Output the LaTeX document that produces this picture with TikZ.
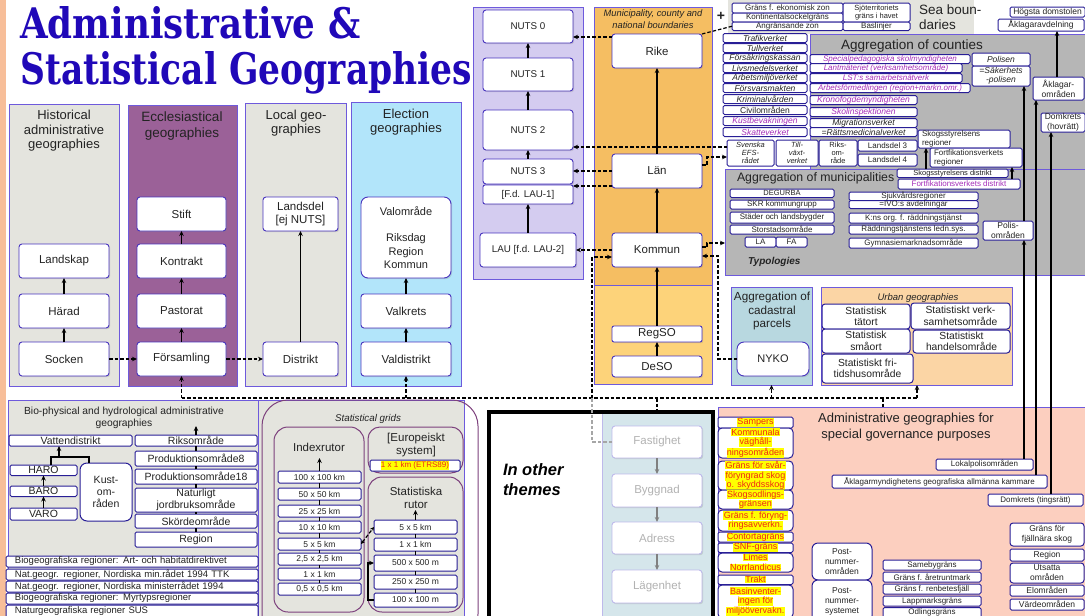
\documentclass[tikz,border=0pt]{standalone}
\usepackage{fontspec}
\usepackage{graphicx}
\setmainfont{Liberation Sans}
\newfontfamily\titlefont{DejaVu Serif}
\usetikzlibrary{arrows.meta,shadows}
\definecolor{peach}{RGB}{247,190,153}
\definecolor{lgray}{RGB}{228,228,222}
\definecolor{eccl}{RGB}{155,97,152}
\definecolor{elect}{RGB}{178,229,250}
\definecolor{lav}{RGB}{212,204,240}
\definecolor{orng}{RGB}{245,190,98}
\definecolor{lorng}{RGB}{253,211,122}
\definecolor{mgray}{RGB}{182,182,182}
\definecolor{cadc}{RGB}{184,216,224}
\definecolor{urbc}{RGB}{251,213,165}
\definecolor{salm}{RGB}{252,207,191}
\definecolor{othb}{RGB}{213,230,235}
\definecolor{contb}{RGB}{110,90,220}
\definecolor{nodeb}{RGB}{72,52,190}
\definecolor{rowb}{RGB}{40,30,150}
\definecolor{purp}{RGB}{165,45,185}
\definecolor{gridp}{RGB}{125,65,125}
\definecolor{hly}{RGB}{255,255,0}
\definecolor{hlr}{RGB}{240,40,20}
\definecolor{titlec}{RGB}{32,8,184}
\definecolor{txt}{RGB}{35,35,35}
\definecolor{fadeb}{RGB}{190,185,235}
\definecolor{fadet}{RGB}{178,178,178}
\newcommand{\fsz}[2]{\fontsize{#1}{#2}\selectfont}
\newcommand{\hy}[1]{{\setlength{\fboxsep}{0.4pt}\colorbox{hly}{#1}}}
\newcommand{\bx}[7][]{\node[box,#1,anchor=north west,minimum width={#5-(#3)},minimum height={#6-(#4)}] (#2) at (#3,#4) {#7};}
\tikzset{
 box/.style={draw=nodeb,fill=white,line width=0.9pt,rounded corners=3pt,inner sep=0pt,outer sep=0pt,align=center,text=txt,font=\fsz{11.5}{13.5}},
 shd/.style={drop shadow={shadow xshift=1.2pt,shadow yshift=-1.2pt,opacity=0.25}},
 mainbox/.style={shd},
 bigr/.style={rounded corners=7pt},
 nutsf/.style={font=\fsz{9.8}{12}},
 row/.style={draw=rowb,rounded corners=1.5pt,line width=1pt,font=\fsz{8}{9}},
 rowi/.style={row,font=\fsz{8.5}{9}\itshape},
 cont/.style={draw=contb,line width=0.8pt,sharp corners},
 ttl/.style={inner sep=0pt,outer sep=0pt,align=center,text=txt,font=\fsz{13}{14.5}},
 arr/.style={line width=1.2pt,-{Stealth[length=5pt,width=4.5pt]}},
 ln/.style={line width=1.2pt},
 dln/.style={line width=1.2pt,dash pattern=on 3.5pt off 2pt},
 darr/.style={dln,-{Stealth[length=5pt,width=4.5pt]}},
 faded/.style={draw=fadeb,text=fadet,shd},
 hlrow/.style={row,text=hlr,font=\fsz{9}{9.6}},
 gring/.style={draw=gridp,line width=1pt,fill=none},
 brow/.style={row,font=\fsz{10.5}{11.5}},
 lrow/.style={row,font=\fsz{9.5}{11},align=left,text width=234pt,inner xsep=9pt},
}
\begin{document}
\begin{tikzpicture}[x=1pt,y=-1pt]
\useasboundingbox (0,0) rectangle (1085,616);
\fill[peach] (0,0) rectangle (6,616);
% title
\node[anchor=base west,inner sep=0pt,text=titlec] (title1) at (20,38) {\resizebox{340pt}{32pt}{\titlefont\bfseries Administrative \&}};
\node[anchor=base west,inner sep=0pt,text=titlec] (title2) at (20,84) {\resizebox{452pt}{33pt}{\titlefont\bfseries Statistical Geographies}};
% containers
\bx[cont,fill=lgray]{hist}{9}{104}{119}{386}{}
\bx[cont,fill=eccl]{ecclc}{128}{105}{237}{386}{}
\bx[cont,fill=lgray]{localc}{245}{103}{346}{386}{}
\bx[cont,fill=elect]{electc}{351}{102}{461}{386}{}
\bx[cont,fill=lav]{nutsc}{473}{7}{583}{279}{}
\bx[cont,fill=orng]{munc}{594}{7}{712}{285}{}
\bx[cont,fill=lorng]{munc2}{594}{285}{712}{384}{}
\bx[cont,draw=none,fill=lgray]{seac}{728}{0}{974}{34}{}
\bx[cont,fill=mgray]{counties}{810}{34}{1090}{169}{}
\bx[cont,fill=mgray]{muni}{725}{169}{1090}{275}{}
\bx[cont,fill=cadc]{cad}{731}{287}{812}{385}{}
\bx[cont,fill=urbc]{urban}{821}{287}{1012}{385}{}
\bx[cont,fill=lgray]{bio}{8}{400}{258}{625}{}
\bx[cont,fill=lgray]{gridc}{258}{400}{464}{625}{}
\bx[cont,fill=othb,draw=fadeb]{otherin}{602}{412}{712}{625}{}
\bx[cont,draw=black,line width=4pt,fill=none]{other}{489}{412}{713}{625}{}
\bx[cont,fill=salm]{special}{718}{407}{1090}{625}{}
\bx[gring,rounded corners=26pt]{gridout}{262}{400}{478}{640}{}
\bx[gring,rounded corners=14pt]{idxbox}{274}{427}{364}{612}{}
\bx[gring,rounded corners=12pt]{eurbox}{368}{427}{463}{473}{}
\bx[gring,rounded corners=14pt]{statbox}{368}{477}{463}{612}{}
% container titles
\node[ttl] (histT) at (64,131) {Historical\\administrative\\geographies};
\node[ttl,font=\fsz{13.5}{16.5}] (ecclT) at (182,126) {Ecclesiastical\\geographies};
\node[ttl] (localT) at (296,123) {Local geo-\\graphies};
\node[ttl] (electT) at (406,122) {Election\\geographies};
\node[ttl,font=\fsz{9.3}{12}\itshape] (munT) at (653,19) {Municipality, county and\\national boundaries};
\node[ttl,align=left,anchor=west,font=\fsz{13.5}{14.5}] (seaT) at (919,17) {Sea boun-\\daries};
\node[ttl,font=\fsz{13.5}{15}] (countiesT) at (912,46) {Aggregation of counties};
\node[ttl,anchor=west,font=\fsz{12.3}{14}] (muniT) at (737,178) {Aggregation of municipalities};
\node[ttl,anchor=west,font=\fsz{10}{12}\bfseries\itshape] (typT) at (748,262) {Typologies};
\node[ttl,font=\fsz{11.7}{13.5}] (cadT) at (772,311) {Aggregation of\\cadastral\\parcels};
\node[ttl,font=\fsz{9.5}{11}\itshape] (urbT) at (918,298) {Urban geographies};
\node[ttl,font=\fsz{10.3}{12}] (bioT) at (124,418) {Bio-physical and hydrological administrative\\geographies};
\node[ttl,font=\fsz{9.8}{11}\itshape] (gridT) at (368,419) {Statistical grids};
\node[ttl,font=\fsz{11.5}{13}] (idxT) at (319,447) {Indexrutor};
\node[ttl,font=\fsz{11.5}{13}] (eurT) at (416,445) {[Europeiskt\\system]};
\node[ttl,font=\fsz{11.5}{13}] (statT) at (416,498) {Statistiska\\rutor};
\node[ttl,anchor=west,align=left,font=\fsz{16.5}{20}\bfseries\itshape,text=black] (othT) at (503,480) {In other\\themes};
\node[ttl,font=\fsz{13}{15.5}] (specT) at (906,427) {Administrative geographies for\\special governance purposes};
\node[ttl,font=\fsz{14}{14}\bfseries] (plus) at (721,16) {+};
% main chains
\bx[mainbox]{landskap}{19}{244}{109}{278}{Landskap}
\bx[mainbox]{harad}{19}{294}{109}{328}{Härad}
\bx[mainbox]{socken}{19}{342}{109}{376}{Socken}
\bx[mainbox]{stift}{137}{197}{226}{231}{Stift}
\bx[mainbox]{kontrakt}{137}{244}{226}{278}{Kontrakt}
\bx[mainbox]{pastorat}{137}{294}{226}{328}{Pastorat}
\bx[mainbox]{forsamling}{137}{342}{226}{376}{Församling}
\bx[mainbox]{landsdel}{263}{197}{338}{231}{Landsdel\\{[ej NUTS]}}
\bx[mainbox]{distrikt}{263}{342}{338}{376}{Distrikt}
\bx[mainbox,bigr,font=\fsz{11}{13.5}]{valomrade}{361}{197}{451}{278}{Valområde\\[13pt]Riksdag\\Region\\Kommun}
\bx[mainbox]{valkrets}{361}{294}{451}{328}{Valkrets}
\bx[mainbox]{valdistrikt}{361}{342}{451}{376}{Valdistrikt}
\bx[mainbox,nutsf]{nuts0}{483}{10}{573}{43}{NUTS 0}
\bx[mainbox,nutsf]{nuts1}{483}{58}{573}{91}{NUTS 1}
\bx[mainbox,nutsf]{nuts2}{483}{110}{573}{150}{NUTS 2}
\bx[mainbox,nutsf]{nuts3}{483}{159}{573}{184}{NUTS 3}
\bx[mainbox,nutsf,rounded corners=2pt]{lau1}{483}{185}{573}{204}{[F.d. LAU-1]}
\bx[mainbox,nutsf]{lau}{480}{233}{576}{267}{LAU [f.d. LAU-2]}
\bx[mainbox]{rike}{612}{34}{702}{68}{Rike}
\bx[mainbox]{lan}{612}{154}{702}{188}{Län}
\bx[mainbox]{kommun}{612}{233}{702}{267}{Kommun}
\bx[mainbox,rounded corners=2pt]{regso}{612}{326}{702}{342}{RegSO}
\bx[mainbox]{deso}{612}{356}{702}{377}{DeSO}
% sea boundaries
\bx[row]{ekzon}{732}{3}{843}{13}{Gräns f. ekonomisk zon}
\bx[row]{kontin}{732}{13}{843}{22}{Kontinentalsockelgräns}
\bx[row]{angr}{732}{22}{843}{30.5}{Angränsande zon}
\bx[row,font=\fsz{7.5}{8.5}]{sjoterr}{843}{3}{910}{22}{Sjöterritoriets\\gräns i havet}
\bx[row]{baslin}{843}{22}{910}{30.5}{Baslinjer}
% agencies
\bx[rowi]{trafik}{723}{33.5}{807}{42.5}{Trafikverket}
\bx[rowi]{tull}{723}{43.5}{807}{52.5}{Tullverket}
\bx[rowi]{fk}{723}{53.5}{807}{62.5}{Försäkringskassan}
\bx[rowi]{livs}{723}{63.5}{807}{72.5}{Livsmedelsverket}
\bx[rowi]{arbm}{723}{73.5}{807}{82.5}{Arbetsmiljöverket}
\bx[rowi]{forsv}{723}{83.5}{807}{92.5}{Försvarsmakten}
\bx[rowi]{krim}{723}{94.5}{807}{103.5}{Kriminalvården}
\bx[row,font=\fsz{8.5}{9}]{civil}{723}{105.5}{807}{114.5}{Civilområden}
\bx[rowi,text=purp]{kustbev}{723}{116.5}{807}{125.5}{Kustbevakningen}
\bx[rowi,text=purp]{skatt}{723}{127.5}{807}{136.5}{Skatteverket}
\bx[rowi,font=\fsz{8}{9}\itshape,text=purp]{spsm}{810}{54.5}{970}{63.5}{Specialpedagogiska skolmyndigheten}
\bx[rowi,font=\fsz{8}{9}\itshape,text=purp]{lm}{810}{63.5}{962}{72.5}{Lantmäteriet (verksamhetsområde)}
\bx[rowi,font=\fsz{8}{9}\itshape,text=purp]{lst}{810}{73.5}{962}{82.5}{LST:s samarbetsnätverk}
\bx[rowi,font=\fsz{8}{9}\itshape,text=purp]{af}{810}{83.5}{970}{92.5}{Arbetsförmedlingen (region+markn.omr.)}
\bx[rowi,text=purp]{kfm}{810}{95.5}{917}{104.5}{Kronofogdemyndigheten}
\bx[rowi,text=purp]{skolinsp}{810}{107.5}{917}{116.5}{Skolinspektionen}
\bx[rowi]{migr}{810}{118.5}{917}{127.5}{Migrationsverket}
\bx[rowi]{rmv}{810}{127.5}{917}{136.5}{=Rättsmedicinalverket}
\bx[row,font=\fsz{8.5}{9.5}\itshape]{polisen}{972}{53}{1030}{66}{Polisen}
\bx[row,font=\fsz{8.5}{9.5}\itshape]{sapo}{972}{66}{1030}{86}{=Säkerhets\\-polisen}
\bx[row,font=\fsz{8.5}{9.5}]{hd}{1010}{7}{1085}{17}{Högsta domstolen}
\bx[row,font=\fsz{8.5}{9.5}]{aklagavd}{998}{19}{1084}{31}{Åklagaravdelning}
\bx[row,font=\fsz{8.5}{10}]{aklagomr}{1033}{77}{1084}{100}{Åklagar-\\områden}
\bx[row,font=\fsz{8.5}{10}]{domhov}{1041}{113}{1085}{132}{Domkrets\\(hovrätt)}
\bx[rowi,font=\fsz{7.5}{8.3}\itshape]{efs}{727}{140}{774}{166}{Svenska\\EFS-\\rådet}
\bx[rowi,font=\fsz{7.5}{8.3}\itshape]{tillv}{776}{140}{818}{166}{Till-\\växt-\\verket}
\bx[row,font=\fsz{7.5}{8.3}]{riksomr}{819}{140}{857}{166}{Riks-\\om-\\råde}
\bx[row]{ld3}{858}{140}{917}{151}{Landsdel 3}
\bx[row]{ld4}{858}{154}{917}{166}{Landsdel 4}
\bx[row,align=left,text width=84pt,inner xsep=4pt]{skogreg}{918}{130}{1010}{148}{Skogsstyrelsens\\regioner}
\bx[row,align=left,text width=84pt,inner xsep=4pt]{fortreg}{930}{148}{1022}{167}{Fortfikationsverkets\\regioner}
\bx[row,font=\fsz{7.5}{8.5}]{skogdist}{897}{169}{1008}{177.5}{Skogsstyrelsens distrikt}
\bx[row,text=purp]{fortdist}{898}{179}{1020}{189}{Fortfikationsverkets distrikt}
% municipalities
\bx[row,font=\fsz{7.5}{8.5}]{degurba}{730}{189}{834}{197.5}{DEGURBA}
\bx[row]{skr}{730}{200}{834}{209}{SKR kommungrupp}
\bx[row]{stader}{730}{212}{834}{223}{Städer och landsbygder}
\bx[row]{storstad}{730}{225}{834}{234}{Storstadsområde}
\bx[row]{la}{745}{237}{776}{247}{LA}
\bx[row]{fa}{776}{237}{807}{247}{FA}
\bx[row]{sjukv}{849}{192}{978}{200.5}{Sjukvårdsregioner}
\bx[row]{ivo}{849}{200.5}{978}{208.5}{=IVO:s avdelningar}
\bx[row]{kns}{849}{213}{978}{223}{K:ns org. f. räddningstjänst}
\bx[row]{radd}{849}{225}{978}{234}{Räddningstjänstens ledn.sys.}
\bx[row]{gymn}{849}{238}{978}{248}{Gymnasiemarknadsområde}
\bx[row,font=\fsz{8.5}{10}]{polisomr}{983}{221}{1033}{240}{Polis-\\områden}
% cadastral, urban
\bx[mainbox,bigr,font=\fsz{11}{13}]{nyko}{737}{342}{809}{376}{NYKO}
\bx[row,font=\fsz{10.3}{11.5},rounded corners=3pt]{tatort}{822}{304}{910}{329}{Statistisk\\tätort}
\bx[row,font=\fsz{10.3}{11.5},rounded corners=3pt]{smaort}{822}{329}{910}{353}{Statistisk\\småort}
\bx[row,font=\fsz{10.3}{11.5},rounded corners=3pt]{fritid}{822}{354}{913}{383}{Statistiskt fri-\\tidshusområde}
\bx[row,font=\fsz{10.3}{11.5},rounded corners=3pt]{verks}{911}{303}{1010}{329}{Statistiskt verk-\\samhetsområde}
\bx[row,font=\fsz{10.3}{11.5},rounded corners=3pt]{handel}{913}{330}{1010}{353}{Statistiskt\\handelsområde}
% bio-physical
\bx[brow]{vatten}{9}{435}{132}{446}{Vattendistrikt}
\bx[brow]{riks}{135}{435}{257}{446}{Riksområde}
\bx[brow]{prod8}{135}{451}{257}{466}{Produktionsområde8}
\bx[brow]{prod18}{135}{469}{257}{484}{Produktionsområde18}
\bx[brow]{natjord}{135}{488}{257}{512}{Naturligt\\jordbruksområde}
\bx[brow]{skord}{135}{514}{257}{528}{Skördeområde}
\bx[brow]{regionB}{135}{532}{257}{547}{Region}
\bx[brow]{haro}{10}{465}{77}{475.5}{HARO}
\bx[brow]{baro}{10}{486}{77}{496.5}{BARO}
\bx[brow]{varo}{10}{508}{77}{520}{VARO}
\bx[brow,font=\fsz{10.5}{12},rounded corners=7pt]{kust}{80}{463}{132}{521}{Kust-\\om-\\råden}
\bx[lrow]{bg1}{6}{556}{258}{567}{Biogeografiska regioner: Art- och habitatdirektivet}
\bx[lrow]{bg2}{6}{569}{258}{580}{Nat.geogr. regioner, Nordiska min.rådet 1994 TTK}
\bx[lrow]{bg3}{6}{581}{258}{592}{Nat.geogr. regioner, Nordiska ministerrådet 1994}
\bx[lrow]{bg4}{6}{593}{258}{604}{Biogeografiska regioner: Myrtypsregioner}
\bx[lrow]{bg5}{6}{605}{258}{618}{Naturgeografiska regioner SUS}
% grids
\bx[row,font=\fsz{8.5}{10}]{i100}{278}{471}{361}{483}{100 x 100 km}
\bx[row,font=\fsz{8.5}{10}]{i50}{278}{488}{361}{500}{50 x 50 km}
\bx[row,font=\fsz{8.5}{10}]{i25}{278}{505}{361}{517}{25 x 25 km}
\bx[row,font=\fsz{8.5}{10}]{i10}{278}{521}{361}{533}{10 x 10 km}
\bx[row,font=\fsz{8.5}{10}]{i5}{278}{538}{361}{550}{5 x 5 km}
\bx[row,font=\fsz{8.5}{10}]{i2}{278}{553}{361}{565}{2,5 x 2,5 km}
\bx[row,font=\fsz{8.5}{10}]{i1}{278}{568}{361}{580}{1 x 1 km}
\bx[row,font=\fsz{8.5}{10}]{i05}{278}{583}{361}{595}{0,5 x 0,5 km}
\bx[row,font=\fsz{8}{9},text=hlr]{etrs}{370}{460}{460}{471}{\hy{1 x 1 km (ETRS89)}}
\bx[row,font=\fsz{8.5}{10}]{s5}{374}{520}{457}{534}{5 x 5 km}
\bx[row,font=\fsz{8.5}{10}]{s1}{374}{538}{457}{551}{1 x 1 km}
\bx[row,font=\fsz{8.5}{10}]{s500}{374}{555}{457}{571}{500 x 500 m}
\bx[row,font=\fsz{8.5}{10}]{s250}{374}{575}{457}{589}{250 x 250 m}
\bx[row,font=\fsz{8.5}{10}]{s100}{374}{593}{457}{607}{100 x 100 m}
% other themes
\bx[faded]{fast}{612}{426}{702}{458}{Fastighet}
\bx[faded]{bygg}{612}{474}{702}{507}{Byggnad}
\bx[faded]{adress}{612}{522}{702}{554}{Adress}
\bx[faded]{lagen}{612}{570}{702}{603}{Lägenhet}
% special governance
\bx[hlrow]{sampers}{718}{417}{793}{428}{\hy{Sampers}}
\bx[hlrow,rounded corners=4pt]{kommunala}{718}{428}{793}{458}{\hy{Kommunala}\\\hy{väghåll-}\\\hy{ningsområden}}
\bx[hlrow,rounded corners=4pt]{svarf}{718}{461}{793}{490}{\hy{Gräns för svår-}\\\hy{föryngrad skog}\\\hy{o. skyddsskog}}
\bx[hlrow,rounded corners=4pt]{skogsodl}{718}{490}{793}{509}{\hy{Skogsodlings-}\\\hy{gränsen}}
\bx[hlrow,rounded corners=4pt]{foryng}{718}{510}{793}{531}{\hy{Gräns f. föryng-}\\\hy{ringsavverkn.}}
\bx[hlrow]{contorta}{718}{532}{793}{542}{\hy{Contortagräns}}
\bx[hlrow]{snf}{718}{543}{793}{552.5}{\hy{SNF-gräns}}
\bx[hlrow,rounded corners=4pt]{limes}{718}{553}{793}{572}{\hy{Limes}\\\hy{Norrlandicus}}
\bx[hlrow]{trakt}{718}{575}{793}{584.5}{\hy{Trakt}}
\bx[hlrow,rounded corners=4pt]{basinv}{718}{585}{793}{618}{\hy{Basinventer-}\\\hy{ingen för}\\\hy{miljöövervakn.}}
\bx[row]{lokalpol}{936}{459}{1033}{470}{Lokalpolisområden}
\bx[row]{aklkam}{832}{475}{1047}{488}{Åklagarmyndighetens geografiska allmänna kammare}
\bx[row]{domting}{988}{494}{1083}{506}{Domkrets (tingsrätt)}
\bx[row,font=\fsz{8.5}{10},rounded corners=6pt]{postomr}{812}{543}{872}{580}{Post-\\nummer-\\områden}
\bx[row,font=\fsz{8.5}{10},rounded corners=6pt]{postsys}{812}{580}{872}{622}{Post-\\nummer-\\systemet}
\bx[row]{sameby}{883}{560}{981}{570}{Samebygräns}
\bx[row]{aretrunt}{883}{572}{981}{582}{Gräns f. åretruntmark}
\bx[row]{renbete}{883}{584}{981}{594}{Gräns f. renbetesfjäll}
\bx[row]{lappm}{883}{596}{981}{606}{Lappmarksgräns}
\bx[row]{odling}{883}{607.5}{981}{618}{Odlingsgräns}
\bx[row,font=\fsz{8.5}{10},rounded corners=3pt]{fjallnara}{1010}{523}{1084}{546}{Gräns för\\fjällnära skog}
\bx[row,font=\fsz{8.5}{10}]{regionR}{1010}{549}{1084}{561}{Region}
\bx[row,font=\fsz{8.5}{10},rounded corners=3pt]{utsatta}{1010}{563}{1084}{583}{Utsatta\\områden}
\bx[row,font=\fsz{8.5}{10}]{elomr}{1010}{585}{1084}{596}{Elområden}
\bx[row,font=\fsz{8.5}{10}]{vardeomr}{1010}{599}{1084}{610}{Värdeområden}
% ---------- connectors ----------
\draw[arr] (socken) -- (harad);
\draw[arr] (harad) -- (landskap);
\draw[arr] (forsamling) -- (pastorat);
\draw[arr] (pastorat) -- (kontrakt);
\draw[arr] (kontrakt) -- (stift);
\draw[arr] (distrikt) -- (landsdel);
\draw[arr] (valdistrikt) -- (valkrets);
\draw[arr] (valkrets) -- (valomrade);
\draw[darr] (socken) -- (forsamling);
\draw[darr] (forsamling) -- (distrikt);
\draw[arr] (nuts3) -- (nuts2);
\draw[arr] (nuts2) -- (nuts1);
\draw[arr] (nuts1) -- (nuts0);
\draw[arr] (lau) -- (lau1);
\draw[arr] (kommun) -- (lan);
\draw[arr] (lan) -- (rike);
\draw[arr] (regso) -- (kommun);
\draw[arr] (deso) -- (regso);
\draw[darr] (rike.west |- 0,37) -- (nuts0.east |- 0,37);
\draw[dln] (rike.north east) -- (angr.west);
\draw[darr] (efs.west |- 0,147) -- (nuts2.east |- 0,147);
\draw[darr] (lan.east |- 0,165) -- ++(5,0) |- (efs.west |- 0,157);
\draw[darr] (lan.west |- 0,171) -- (nuts3.east |- 0,171);
\draw[darr] (lan.west |- 0,186) -- (lau1.east |- 0,186);
\draw[darr] (kommun.west |- 0,250) -- (lau.east |- 0,250);
\draw[darr] (kommun.east |- 0,247) -- ++(5,0) |- (muni.west |- 0,243);
\draw[darr] (nyko.west) -| (718,256) -- (kommun.east |- 0,256);
% bus
\coordinate (busL) at (181.5,398);
\coordinate (busR) at (917,398);
\coordinate (j592) at (592,398);
\coordinate (b657) at (657,398);
\coordinate (b883) at (883,398);
\draw[dln] (busL) -- (busR);
\draw[darr] (forsamling.south |- busL) -- (forsamling.south);
\draw[darr] (valdistrikt.south |- busL) -- (valdistrikt.south);
\draw[darr] (cad.south |- busL) -- (cad.south);
\draw[darr] (busR) -- (urban.south -| busR);
\draw[darr] (j592) |- (kommun.west |- 0,257);
\draw[dln,draw=gray!70] (fast.west) -| (j592);
\draw[dln] (b657) -- (other.north -| b657);
\draw[dln] (b883) -- (special.north -| b883);
% right side long arrows
\draw[arr] (aklagomr.north -| 1057,0) -- (aklagavd.south -| 1057,0);
\draw[arr] (polisomr.north -| 1024,0) -- (sapo.south -| 1024,0);
\draw[arr] (lokalpol.north -| 1024,0) -- (polisomr.south -| 1024,0);
\draw[arr] (aklkam.north -| 1036,0) -- (aklagomr.south -| 1036,0);
\draw[arr] (domting.north -| 1051,0) -- (domhov.south -| 1051,0);
\draw[arr] (skogdist.north -| 926,0) -- (skogreg.south -| 926,0);
\draw[arr] (fortdist.north -| 1012,0) -- (fortreg.south -| 1012,0);
% bio
\draw[arr] (varo) -- (baro);
\draw[arr] (baro) -- (haro);
\coordinate (jv) at (59,457);
\draw[ln] (haro.north -| 51,0) |- (jv) -| (kust.north -| 89,0);
\draw[arr] (jv) -- (vatten.south -| jv);
\draw[ln] (regionB) -- (skord);
\draw[ln] (skord) -- (natjord);
\draw[ln] (natjord) -- (prod18);
\draw[ln] (prod18) -- (prod8);
\draw[ln] (prod8) -- (riks);
\coordinate (bioup) at (196,426);
\draw[arr] (riks) -- (bioup);
% grids
\draw[ln] (i05) -- (i1);
\draw[ln] (i1) -- (i2);
\draw[ln] (i2) -- (i5);
\draw[ln] (i5) -- (i10);
\draw[ln] (i10) -- (i25);
\draw[ln] (i25) -- (i50);
\draw[ln] (i50) -- (i100);
\coordinate (idxup) at (319.5,458);
\draw[arr] (i100) -- (idxup);
\draw[ln] (s100) -- (s250);
\draw[ln] (s250) -- (s500);
\draw[ln] (s500) -- (s1);
\draw[ln] (s1) -- (s5);
\coordinate (statup) at (415.5,510);
\draw[arr] (s5) -- (statup);
\draw[dln,{Stealth[length=4pt,width=4pt]}-{Stealth[length=4pt,width=4pt]}] (i5.east) -- (s5.west);
\draw[arr] (s100.west) -- ++(-6,0) |- (s500.west);
% other themes
\draw[arr,draw=gray,color=gray] (fast) -- (bygg);
\draw[arr,draw=gray,color=gray] (bygg) -- (adress);
\draw[arr,draw=gray,color=gray] (adress) -- (lagen);
\end{tikzpicture}
\end{document}
